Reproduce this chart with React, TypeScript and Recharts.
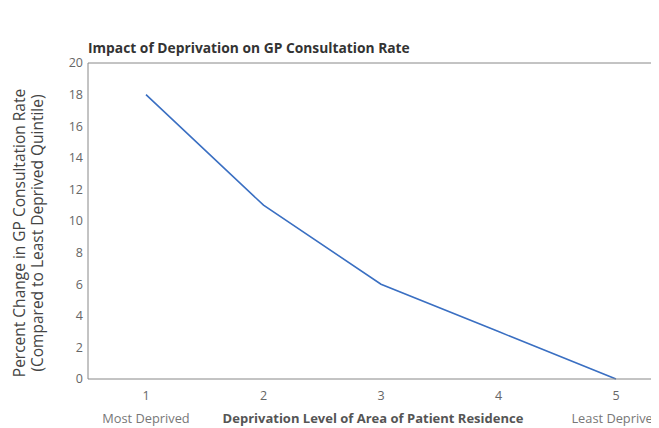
import React from "react";
import { LineChart, Line, XAxis, YAxis, ReferenceLine } from "recharts";

const levels = ["1", "2", "3", "4", "5"];
const levelNames = ["Most Deprived", "", "", "", "Least Deprived"];
const changePct = [18, 11, 6, 3, 0];
const yTicks = [0, 2, 4, 6, 8, 10, 12, 14, 16, 18, 20];

const FONT = "'Open Sans', 'DejaVu Sans', sans-serif";

const data = levels.map((lv, i) => ({ level: lv, name: levelNames[i], value: changePct[i] }));

function LevelTick(props: any) {
    const { x, y, payload, index } = props;
    return (
        <g>
            <text x={x} y={y + 13} textAnchor="middle" fontSize={12.5} fill="#666" fontFamily={FONT}>
                {payload.value}
            </text>
            <text x={x} y={y + 36} textAnchor="middle" fontSize={12.8} fill="#777" fontFamily={FONT}>
                {levelNames[index]}
            </text>
        </g>
    );
}

function XTitle(props: any) {
    const vb = props.viewBox;
    if (!vb) return null;
    return (
        <text
            x={vb.x + vb.width / 2 - 8}
            y={vb.y + 44}
            textAnchor="middle"
            fontSize={13}
            fontWeight={700}
            fill="#555"
            fontFamily={FONT}
        >
            Deprivation Level of Area of Patient Residence
        </text>
    );
}

function YTitle(props: any) {
    const vb = props.viewBox;
    if (!vb) return null;
    const midY = vb.y + vb.height / 2 + 12;
    return (
        <text
            transform={`translate(17, ${midY}) rotate(-90)`}
            textAnchor="middle"
            fontSize={15.5}
            fill="#444"
            fontFamily={FONT}
        >
            <tspan x={0} y={0}>Percent Change in GP Consultation Rate</tspan>
            <tspan x={0} y={18}>(Compared to Least Deprived Quintile)</tspan>
        </text>
    );
}

export default function App() {
    return (
        <div style={{ position: "relative", width: 651, height: 420, overflow: "hidden", fontFamily: FONT }}>
            <div
                style={{
                    position: "absolute",
                    left: 80,
                    top: 30,
                    fontSize: 13.8,
                    fontWeight: 700,
                    color: "#333",
                    whiteSpace: "nowrap",
                }}
            >
                Impact of Deprivation on GP Consultation Rate
            </div>
            <LineChart
                width={720}
                height={420}
                data={data}
                margin={{ top: 55, right: 54, bottom: 0, left: 40 }}
            >
                <XAxis
                    dataKey="level"
                    height={49}
                    padding={{ left: 58, right: 58 }}
                    tickLine={false}
                    axisLine={{ stroke: "#888" }}
                    tick={<LevelTick />}
                    interval={0}
                    label={<XTitle />}
                />
                <YAxis
                    width={40}
                    domain={[0, 20]}
                    ticks={yTicks}
                    tickLine={false}
                    tickSize={4}
                    tickMargin={1}
                    axisLine={{ stroke: "#888" }}
                    tick={{ fontSize: 12.5, fill: "#666", fontFamily: FONT }}
                    label={<YTitle />}
                />
                <ReferenceLine y={20} stroke="#888" />
                <Line
                    type="linear"
                    dataKey="value"
                    stroke="#3a6fc2"
                    strokeWidth={1.6}
                    dot={false}
                    isAnimationActive={false}
                />
            </LineChart>
        </div>
    );
}
